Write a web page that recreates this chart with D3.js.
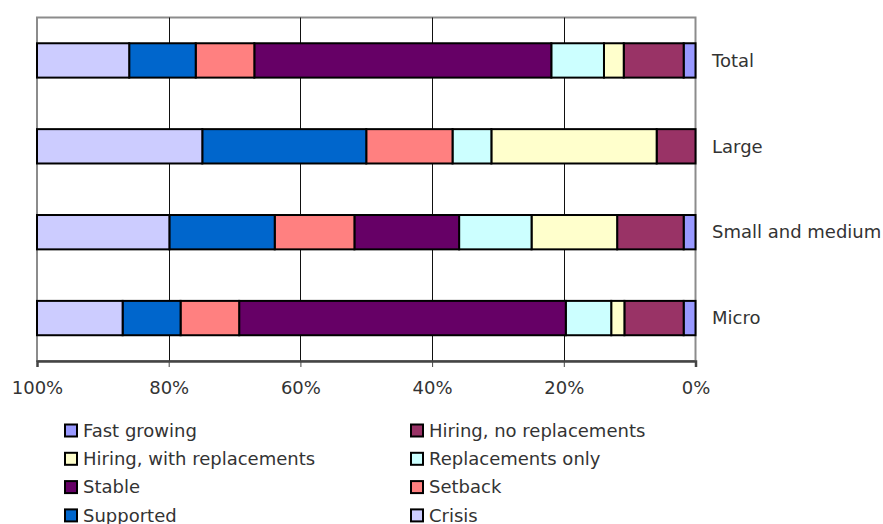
<!DOCTYPE html>
<html>
<head>
<meta charset="utf-8">
<script src="https://cdn.jsdelivr.net/npm/d3@7"></script>
<style>
  body { margin: 0; background: #fff; }
  svg { display: block; }
</style>
</head>
<body>
<script>
// categories top to bottom
var categories = ["Total", "Large", "Small and medium", "Micro"];

// series, stacked from the 0% side (right) towards 100% (left)
var seriesNames = ["Fast growing", "Hiring, no replacements", "Hiring, with replacements",
    "Replacements only", "Stable", "Setback", "Supported", "Crisis"];
var seriesColors = ["#9999ff", "#993366", "#ffffcc", "#ccffff", "#660066", "#ff8080", "#0066cc", "#ccccff"];

// shares in %, one value per category (Total, Large, Small and medium, Micro)
var fastGrowing        = [1.8, 0.0, 1.8, 1.8];
var hiringNoRepl       = [9.1, 5.9, 10.1, 9.0];
var hiringWithRepl     = [3.0, 25.1, 13.0, 2.0];
var replacementsOnly   = [8.0, 5.9, 11.0, 6.9];
var stable             = [45.1, 0.0, 15.9, 49.6];
var setback            = [8.9, 13.1, 12.1, 8.9];
var supported          = [10.1, 24.9, 16.0, 8.8];
var crisis             = [14.0, 25.1, 20.1, 13.0];

var tickValues = [100, 80, 60, 40, 20, 0];

var seriesValues = [fastGrowing, hiringNoRepl, hiringWithRepl, replacementsOnly,
    stable, setback, supported, crisis];

var rows = categories.map(function(c, i) {
    var row = { name: c };
    seriesNames.forEach(function(s, j) { row[s] = seriesValues[j][i]; });
    return row;
});

var w = 883, h = 524;
var font = "'DejaVu Sans', Verdana, sans-serif";
var fontSize = "18px";
var textColor = "#333";
var plot = { left: 37, right: 695.5, top: 17.5, bottom: 361 };

var svg = d3.select("body").append("svg")
    .attr("width", w)
    .attr("height", h);

// reversed axis: 100% on the left, 0% on the right
var x = d3.scaleLinear().domain([100, 0]).range([plot.left, plot.right]);
var y = d3.scaleBand().domain(categories).range([plot.top, plot.bottom]).paddingInner(0.6).paddingOuter(0.3);

// plot frame
svg.append("rect")
    .attr("x", plot.left)
    .attr("y", plot.top)
    .attr("width", plot.right - plot.left)
    .attr("height", plot.bottom - plot.top)
    .attr("fill", "#fff")
    .attr("stroke", "#8c8c8c")
    .attr("stroke-width", 2);

// gridlines
svg.selectAll("line.grid")
    .data([80, 60, 40, 20])
    .enter()
    .append("line")
    .attr("class", "grid")
    .attr("x1", function(d) { return Math.round(x(d)) + 0.5; })
    .attr("x2", function(d) { return Math.round(x(d)) + 0.5; })
    .attr("y1", plot.top)
    .attr("y2", plot.bottom)
    .attr("stroke", "#111")
    .attr("stroke-width", 1);

var stack = d3.stack().keys(seriesNames);
var stacked = stack(rows);

svg.selectAll("g.series")
    .data(stacked)
    .enter()
    .append("g")
    .attr("class", "series")
    .attr("fill", function(d, i) { return seriesColors[i]; })
    .selectAll("rect")
    .data(function(d) { return d.filter(function(p) { return p[1] - p[0] > 0; }); })
    .enter()
    .append("rect")
    .attr("x", function(d) { return x(d[1]); })
    .attr("y", function(d) { return y(d.data.name); })
    .attr("width", function(d) { return x(d[0]) - x(d[1]); })
    .attr("height", y.bandwidth())
    .attr("stroke", "#000")
    .attr("stroke-width", 2);

// bottom axis
var axis = d3.axisBottom(x)
    .tickValues(tickValues)
    .tickSize(6)
    .tickFormat(function(d) { return d + "%"; });

var gAxis = svg.append("g")
    .attr("transform", "translate(0," + plot.bottom + ")")
    .call(axis);

gAxis.select(".domain")
    .attr("stroke", "#444")
    .attr("stroke-width", 2.5);
gAxis.selectAll(".tick line").attr("stroke", "#444");
gAxis.selectAll(".tick text")
    .attr("y", 20)
    .attr("dy", "0.71em")
    .attr("fill", textColor)
    .style("font-family", font)
    .style("font-size", fontSize);

// category labels on the right
svg.selectAll("text.cat")
    .data(categories)
    .enter()
    .append("text")
    .attr("class", "cat")
    .attr("x", 712)
    .attr("y", function(d) { return y(d) + y.bandwidth() / 2; })
    .attr("dy", "0.35em")
    .attr("fill", textColor)
    .style("font-family", font)
    .style("font-size", fontSize)
    .text(function(d) { return d; });

// legend, two columns
var legend = svg.selectAll("g.legend")
    .data(seriesNames)
    .enter()
    .append("g")
    .attr("class", "legend")
    .attr("transform", function(d, i) {
        var col = i % 2, row = Math.floor(i / 2);
        return "translate(" + (col === 0 ? 65 : 411) + "," + (430.5 + row * 28.3) + ")";
    });

legend.append("rect")
    .attr("x", 0)
    .attr("y", -6)
    .attr("width", 12)
    .attr("height", 12)
    .attr("fill", function(d, i) { return seriesColors[i]; })
    .attr("stroke", "#000")
    .attr("stroke-width", 2);

legend.append("text")
    .attr("x", 18)
    .attr("y", 0)
    .attr("dy", "0.35em")
    .attr("fill", textColor)
    .style("font-family", font)
    .style("font-size", fontSize)
    .text(function(d) { return d; });
</script>
</body>
</html>
